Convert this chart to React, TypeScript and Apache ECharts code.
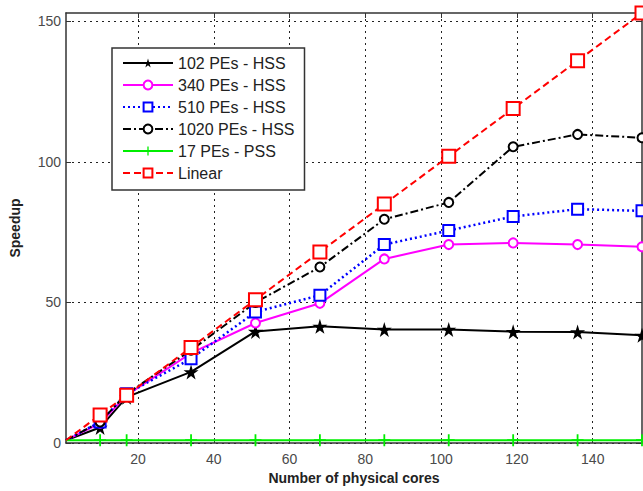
import React, { useEffect, useRef } from "react";
import * as echarts from "echarts";

const cores = [1, 10, 17, 34, 51, 68, 85, 102, 119, 136, 153];
const pe102 = [1, 5.5, 16.3, 25.3, 39.7, 41.5, 40.4, 40.4, 39.6, 39.5, 38.3];
const pe340 = [1, 7, 17, 32, 42.7, 49.7, 65.5, 70.6, 71.2, 70.6, 69.8];
const pe510 = [1, 7.5, 17.5, 30, 46.6, 52.6, 70.6, 75.6, 80.6, 83.2, 82.6];
const pe1020 = [1, 7.5, 17.5, 33, 50, 62.6, 79.6, 85.6, 105.4, 109.8, 108.6];
const pss17 = [1, 1, 1, 1, 1, 1, 1, 1, 1, 1, 1];
const linear = [1, 10, 17, 34, 51, 68, 85, 102, 119, 136, 153];
const xTicks = [20, 40, 60, 80, 100, 120, 140];
const yTicks = [0, 50, 100, 150];
const names = ["102 PEs - HSS", "340 PEs - HSS", "510 PEs - HSS", "1020 PEs - HSS", "17 PEs - PSS", "Linear"];

const STAR = "path://M50,0 L61,35 L98,35 L68,57 L79,91 L50,70 L21,91 L32,57 L2,35 L39,35 Z";
const PLUS = "path://M8.5,0 L11.5,0 L11.5,20 L8.5,20 Z M0,8.5 L20,8.5 L20,11.5 L0,11.5 Z";

function pairs(ys: number[]) {
  return cores.map((x, i) =>
    i === 0 ? { value: [x, ys[i]], symbol: "none" } : { value: [x, ys[i]] }
  );
}

export default function App() {
  const ref = useRef<HTMLDivElement>(null);
  useEffect(() => {
    if (!ref.current) return;
    const chart = echarts.init(ref.current, null, { renderer: "svg" });
    const font = "Liberation Sans, Arial, sans-serif";
    const gridLine = { show: true, lineStyle: { color: "#222", type: [2, 4] as any, width: 1 } };
    const axisLine = { show: true, onZero: false, lineStyle: { color: "#333", width: 1.5 } };
    chart.setOption({
      animation: false,
      backgroundColor: "#fff",
      grid: { left: 65, right: 1, top: 13, bottom: 48 },
      legend: {
        orient: "vertical",
        left: 112,
        top: 48,
        data: names,
        itemWidth: 50,
        itemHeight: 11,
        itemGap: 6,
        padding: [7, 10, 9, 10],
        backgroundColor: "#fff",
        borderColor: "#333",
        borderWidth: 1.5,
        borderRadius: 0,
        textStyle: { fontFamily: font, fontSize: 16, color: "#222", lineHeight: 16 },
      },
      xAxis: [
        {
          type: "value",
          min: 1,
          max: 153,
          position: "bottom",
          name: "Number of physical cores",
          nameLocation: "middle",
          nameGap: 28,
          nameTextStyle: { fontFamily: font, fontSize: 14, fontWeight: "bold", color: "#222" },
          axisLine,
          axisTick: { show: true, inside: true, length: 5, customValues: xTicks, lineStyle: { color: "#333" } },
          axisLabel: { customValues: xTicks, fontFamily: font, fontSize: 14, color: "#4a4a4a", margin: 9 },
          splitLine: gridLine,
        },
        {
          type: "value",
          min: 1,
          max: 153,
          position: "top",
          axisLine,
          axisTick: { show: true, inside: true, length: 5, customValues: xTicks, lineStyle: { color: "#333" } },
          axisLabel: { show: false },
          splitLine: { show: false },
        },
      ],
      yAxis: [
        {
          type: "value",
          min: 0,
          max: 153,
          position: "left",
          name: "Speedup",
          nameLocation: "middle",
          nameGap: 44,
          nameTextStyle: { fontFamily: font, fontSize: 14, fontWeight: "bold", color: "#222" },
          axisLine,
          axisTick: { show: true, inside: true, length: 5, customValues: yTicks, lineStyle: { color: "#333" } },
          axisLabel: { customValues: yTicks, fontFamily: font, fontSize: 14, color: "#4a4a4a", margin: 5 },
          splitLine: gridLine,
        },
        {
          type: "value",
          min: 0,
          max: 153,
          position: "right",
          axisLine,
          axisTick: { show: true, inside: true, length: 5, customValues: yTicks, lineStyle: { color: "#333" } },
          axisLabel: { show: false },
          splitLine: { show: false },
        },
      ],
      series: [
        {
          name: names[0],
          type: "line",
          data: pairs(pe102),
          symbol: STAR,
          symbolSize: 15,
          itemStyle: { color: "#000" },
          lineStyle: { color: "#000", width: 2 },
        },
        {
          name: names[1],
          type: "line",
          data: pairs(pe340),
          symbol: "emptyCircle",
          symbolSize: 9,
          itemStyle: { color: "#ff00ff", borderWidth: 1.5 },
          lineStyle: { color: "#ff00ff", width: 2 },
        },
        {
          name: names[2],
          type: "line",
          data: pairs(pe510),
          symbol: "emptyRect",
          symbolSize: 11,
          itemStyle: { color: "#0000ff", borderWidth: 2 },
          lineStyle: { color: "#0000ff", width: 2.5, type: [2, 3] },
        },
        {
          name: names[3],
          type: "line",
          data: pairs(pe1020),
          symbol: "emptyCircle",
          symbolSize: 9,
          itemStyle: { color: "#000", borderWidth: 1.5 },
          lineStyle: { color: "#000", width: 2, type: [8, 3, 2, 3] },
        },
        {
          name: names[4],
          type: "line",
          data: pairs(pss17),
          symbol: PLUS,
          symbolSize: 12,
          itemStyle: { color: "#00ee00" },
          lineStyle: { color: "#00ee00", width: 2 },
        },
        {
          name: names[5],
          type: "line",
          data: pairs(linear),
          symbol: "emptyRect",
          symbolSize: 13,
          clip: false,
          itemStyle: { color: "#ff0000", borderWidth: 2 },
          lineStyle: { color: "#ff0000", width: 2, type: [7, 4] },
        },
      ],
    });
    return () => chart.dispose();
  }, []);
  return <div ref={ref} style={{ width: 643, height: 491, position: "absolute", left: 0, top: 0 }} />;
}
